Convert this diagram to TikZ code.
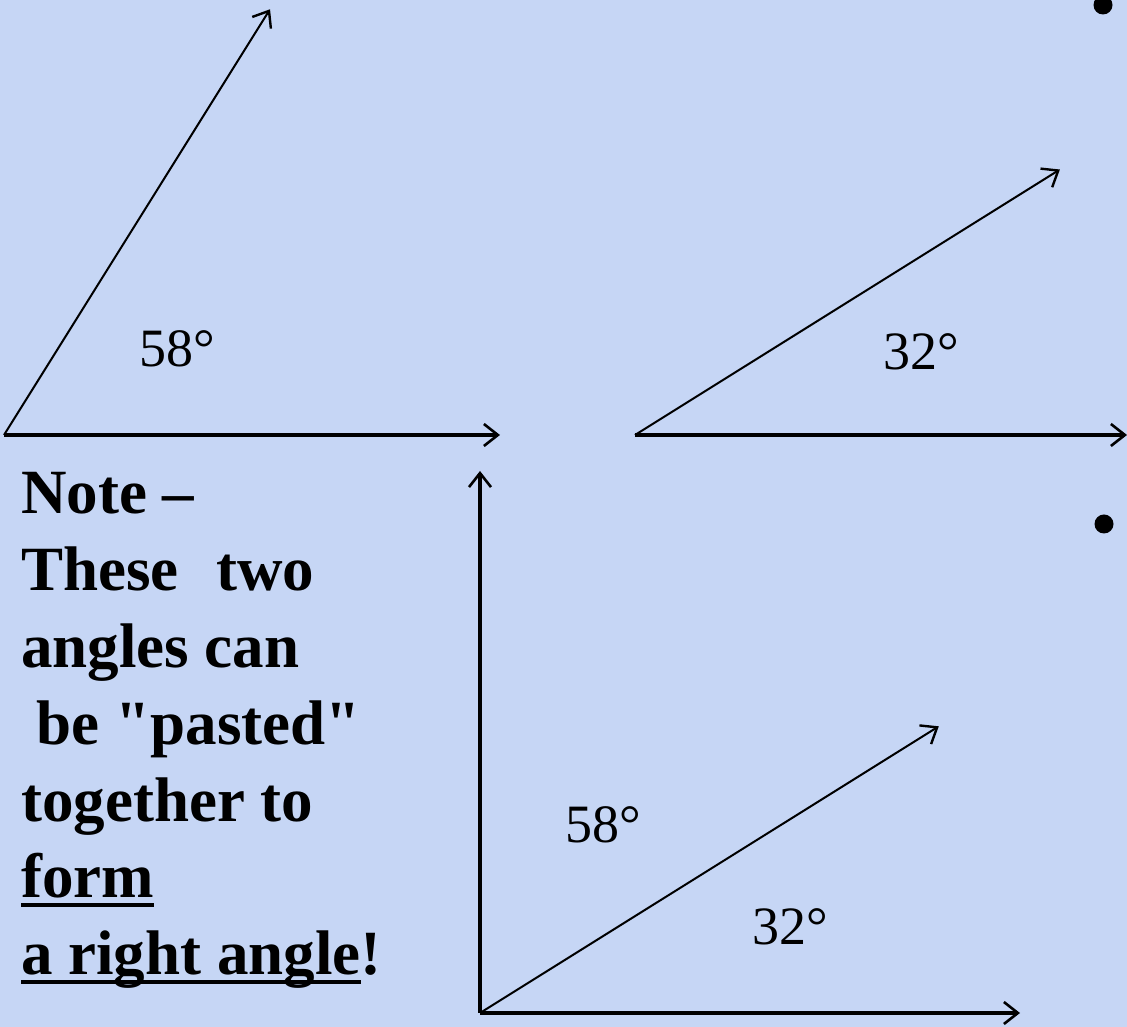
\documentclass[tikz,border=0pt]{standalone}
\usepackage{fontspec}
\setmainfont{Liberation Serif}
\newfontfamily\notefont{Liberation Serif}
\usetikzlibrary{arrows.meta,calc}

\definecolor{paper}{RGB}{198,214,245}
\newcommand{\noteul}[1]{\setbox0=\hbox{#1}\rlap{\rule[-0.15em]{\wd0}{0.065em}}\box0}

\begin{document}
\begin{tikzpicture}[
  x=1pt, y=1pt,
  ray/.style={line width=2pt, -{Straight Barb[length=14pt,width=22pt,line width=2.4pt]}},
  base/.style={line width=3.6pt, -{Straight Barb[length=14pt,width=22pt,line width=2.6pt]}},
  deg/.style={font=\fontsize{54}{60}\selectfont, inner sep=0pt},
  notetext/.style={font=\notefont\fontsize{63}{77}\selectfont\bfseries, anchor=base west, inner sep=0pt},
  bullet/.style={circle, fill=black, inner sep=0pt, minimum size=19pt}
]
\fill[paper] (0,0) rectangle (1127,1027);
\useasboundingbox (0,0) rectangle (1127,1027);

% first angle: 58 degrees
\coordinate (oA) at (4,592);
\coordinate (hA) at (500,592);
\coordinate (sA) at ($(oA)+(58:502)$);
\draw[base] (oA) -- (hA);
\draw[ray] (oA) -- (sA);
\node[deg] (degA) at (177,678) {58°};

% second angle: 32 degrees
\coordinate (oB) at (635,592);
\coordinate (hB) at (1127,592);
\coordinate (sB) at ($(oB)+(32:501)$);
\draw[base] (oB) -- (hB);
\draw[ray] (oB) -- (sB);
\node[deg] (degB) at (921,675) {32°};

% both pasted into a right angle
\coordinate (oC) at (480,14);
\coordinate (vC) at (480,556);
\coordinate (hC) at (1020,14);
\coordinate (sC) at ($(oC)+(32:541)$);
\draw[base] (oC) -- (vC);
\draw[base] (oC) -- (hC);
\draw[ray] (oC) -- (sC);
\node[deg] (degC) at (603,202) {58°};
\node[deg] (degD) at (790,100) {32°};

% bullets on the right edge
\node[bullet] (bulA) at (1103,1022) {};
\node[bullet] (bulB) at (1104,503) {};

% the note
\foreach \txt [count=\i] in {Note –, These\hspace{0.6em}two, angles can,
  \hspace*{0.25em}be "pasted", together to, \noteul{form}, \noteul{a right angle}!}
  \node[notetext] (note\i) at (21,{513-76.8*(\i-1)}) {\txt};
\end{tikzpicture}
\end{document}
